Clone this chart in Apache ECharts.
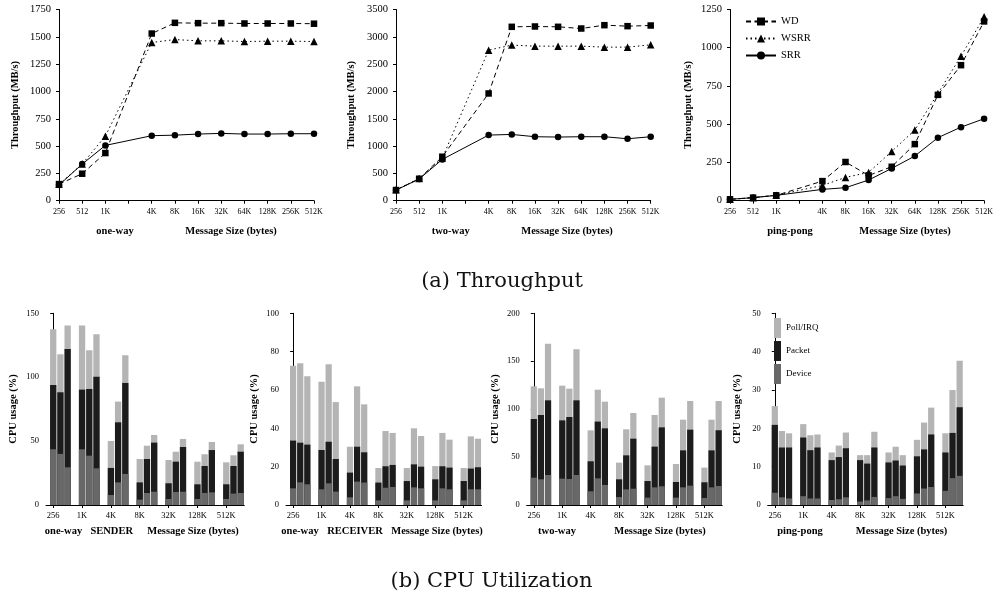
<!DOCTYPE html>
<html>
<head>
<meta charset="utf-8">
<script src="https://cdn.jsdelivr.net/npm/echarts@6/dist/echarts.min.js"></script>
<style>
html,body{margin:0;padding:0;background:#fff;}
#main{width:996px;height:601px;}
</style>
</head>
<body>
<div id="main"></div>
<script>
// ---------- Throughput data ----------
const sizes = ['256','512','1K','2K','4K','8K','16K','32K','64K','128K','256K','512K'];
const sizeTickLabels = ['256','512','1K','','4K','8K','16K','32K','64K','128K','256K','512K'];

const oneWayWD   = [152,247,436,null,1530,1628,1625,1625,1622,1622,1622,1620];
const oneWayWSRR = [150,335,591,null,1448,1475,1463,1463,1457,1460,1460,1457];
const oneWaySRR  = [143,335,506,null,595,600,610,616,610,610,613,613];

const twoWayWD   = [195,402,805,null,1963,3183,3189,3183,3152,3213,3195,3207];
const twoWayWSRR = [200,405,780,null,2756,2848,2829,2829,2829,2811,2811,2854];
const twoWaySRR  = [195,396,756,null,1201,1213,1171,1165,1171,1171,1134,1171];

const pingWD   = [9,20,35,null,128,253,165,222,370,692,886,1172];
const pingWSRR = [9,20,35,null,100,152,185,322,462,701,945,1202];
const pingSRR  = [9,20,35,null,74,85,135,211,292,412,481,536];

// ---------- CPU data (3 bars per group: WD, WSRR, SRR) ----------
const cpuGroups = ['256','1K','4K','8K','32K','128K','512K'];
// cumulative tops of each layer
const senderDevice = [43.6,40,29.5, 43.6,38.6,28.7, 7.8,17.7,24.3, 4.2,9.4,10.4, 4.7,10.2,10.4, 4.7,9.4,9.9, 4.7,8.9,9.4];
const senderPacket = [93.9,88.2,122, 90.3,90.8,100.4, 29,64.7,95.5, 17.7,36,48.8, 17,33.9,45.4, 16.2,30.5,43, 16.2,30.5,41.7];
const senderTotal  = [137.5,117.9,140.4, 140.4,121,133.6, 50.1,80.9,117.1, 36,46.4,54.8, 35.2,41.7,51.7, 33.9,39.7,49.3, 33.4,38.9,47.5];

const recvDevice = [8.7,11.8,10.8, 8.2,11.3,7, 4,12.2,11.7, 2.4,9,9.4, 2.4,9.2,8.7, 2.4,8.7,8.2, 2.4,8.2,8.2];
const recvPacket = [33.6,32.5,31.5, 28.7,33,24, 16.9,30.4,27.5, 11.7,20.2,20.9, 12.5,21.2,20, 13.4,20.2,19.5, 12.5,19,19.7];
const recvTotal  = [72.7,73.9,67.1, 64.3,73.4,53.7, 30.4,61.9,52.5, 19.3,38.6,37.6, 19.3,40,36, 20.3,37.6,34.1, 19.3,35.8,34.6];

const twoDevice = [28.5,26.8,31.3, 27.5,27.1,31.3, 14.3,27.8,20.9, 8.3,16.3,17, 7.7,18.4,19.5, 7.7,18.4,20.2, 7.3,18.4,19.8];
const twoPacket = [89.7,93.9,109.2, 88.3,91.8,109.2, 45.6,87,80, 26.8,51.8,69.2, 25,60.9,81, 24,57,78.6, 23.7,57,78];
const twoTotal  = [123.8,121.7,168.3, 124.5,121.4,162.4, 77.9,120.3,107.8, 44.2,79,96, 41.4,93.9,112, 42.8,89,108.5, 39,89,108.5];

const ppDevice = [3.2,2,1.7, 2.3,1.7,1.7, 1.3,1.5,2, 0.9,1.2,2.1, 1.8,2.3,1.6, 3,4.3,4.7, 3.7,7,7.6];
const ppPacket = [20.9,15,15, 17.6,14.3,15, 11.7,12.5,14.8, 11.7,10.8,15, 11.1,11.6,10.3, 12.7,14.5,18.4, 13.7,18.8,25.5];
const ppTotal  = [25.8,19.3,18.7, 21.1,18.2,18.4, 13.7,15.5,18.9, 13,13,19.1, 13.7,15.2,13, 17,21.5,25.4, 18.7,30,37.6];

// ---------- styling ----------
const FONT = 'Liberation Serif';
const C_POLL = '#b4b4b4', C_PACKET = '#1c1c1c', C_DEVICE = '#686868';

const chart = echarts.init(document.getElementById('main'), null, {renderer:'canvas'});

const topGrids = [
  {left:59, top:9.5, width:255, height:191.2},
  {left:396, top:9.5, width:254.7, height:191.2},
  {left:730, top:9.5, width:256, height:191.2}
];
const botGrids = [
  {left:46, top:313.3, width:198.3, height:191.7},
  {left:286, top:313.3, width:195.5, height:191.7},
  {left:526.7, top:313.3, width:195.5, height:191.7},
  {left:767.7, top:313.3, width:195.5, height:191.7}
];
const XMIN = -1, XMAX = 26.5;

const axisLineStyle = {lineStyle:{color:'#000', width:1}};
const plainNum = v => String(v);

const xAxes = [], yAxes = [], series = [];

const topDefs = [
  {max:1750, interval:250, data:[oneWayWD, oneWayWSRR, oneWaySRR]},
  {max:3500, interval:500, data:[twoWayWD, twoWayWSRR, twoWaySRR]},
  {max:1250, interval:250, data:[pingWD, pingWSRR, pingSRR]}
];
const lineDefs = [
  {name:'WD', symbol:'rect', symbolSize:6.5, type:[5,3.5]},
  {name:'WSRR', symbol:'triangle', symbolSize:7.5, type:[1.5,3]},
  {name:'SRR', symbol:'circle', symbolSize:6.5, type:'solid'}
];

topDefs.forEach((d, gi) => {
  xAxes.push({
    type:'category', gridIndex:gi, data:sizes, boundaryGap:false,
    axisLine:axisLineStyle,
    axisTick:{show:true, interval:0, length:3, lineStyle:{color:'#000'}},
    axisLabel:{interval:0, fontSize:8, fontFamily:FONT, color:'#000', margin:7,
      formatter:(v, i) => sizeTickLabels[i]},
    splitLine:{show:false}
  });
  yAxes.push({
    type:'value', gridIndex:gi, min:0, max:d.max, interval:d.interval,
    axisLine:{show:true, lineStyle:{color:'#000', width:1}},
    axisTick:{show:true, length:3, lineStyle:{color:'#000'}},
    axisLabel:{fontSize:10.5, fontFamily:FONT, color:'#000', margin:8, formatter:plainNum},
    splitLine:{show:false}
  });
  lineDefs.forEach((ld, si) => {
    series.push({
      type:'line', name:ld.name, xAxisIndex:gi, yAxisIndex:gi,
      data:d.data[si], connectNulls:true,
      symbol:ld.symbol, symbolSize:ld.symbolSize, showAllSymbol:true,
      itemStyle:{color:'#000'},
      lineStyle:{color:'#000', width:1, type:ld.type},
      z: 3 - si
    });
  });
});

const botDefs = [
  {max:150, interval:50, dev:senderDevice, pkt:senderPacket, tot:senderTotal},
  {max:100, interval:20, dev:recvDevice, pkt:recvPacket, tot:recvTotal},
  {max:200, interval:50, dev:twoDevice, pkt:twoPacket, tot:twoTotal},
  {max:50, interval:10, dev:ppDevice, pkt:ppPacket, tot:ppTotal}
];
const groupTicks = cpuGroups.map((_, g) => g * 4);
const toXY = arr => arr.map((v, k) => [Math.floor(k / 3) * 4 + (k % 3), v]);

botDefs.forEach((d, bi) => {
  const gi = 3 + bi;
  const slot = botGrids[bi].width / (XMAX - XMIN);
  const bw = slot - 0.9;
  xAxes.push({
    type:'value', gridIndex:gi, min:XMIN, max:XMAX,
    axisLine:{show:true, onZero:false, lineStyle:{color:'#000', width:1}},
    axisTick:{show:true, customValues:groupTicks, length:3, lineStyle:{color:'#000'}},
    axisLabel:{customValues:groupTicks, fontSize:8.5, fontFamily:FONT, color:'#000', margin:6,
      formatter:v => cpuGroups[Math.round(v / 4)] || ''},
    splitLine:{show:false}
  });
  yAxes.push({
    type:'value', gridIndex:gi, min:0, max:d.max, interval:d.interval,
    axisLine:{show:true, lineStyle:{color:'#000', width:1}},
    axisTick:{show:true, length:3, lineStyle:{color:'#000'}},
    axisLabel:{fontSize:8.5, fontFamily:FONT, color:'#000', margin:7, formatter:plainNum},
    splitLine:{show:false}
  });
  [['Poll/IRQ', d.tot, C_POLL], ['Packet', d.pkt, C_PACKET], ['Device', d.dev, C_DEVICE]].forEach((s, k) => {
    series.push({
      type:'bar', name:s[0], xAxisIndex:gi, yAxisIndex:gi,
      data:toXY(s[1]), barWidth:bw, barGap:'-100%',
      itemStyle:{color:s[2]}, z:2 + k
    });
  });
});

const boldText = (x, y, text, rot) => ({
  type:'text', x:x, y:y, rotation: rot ? Math.PI/2 : 0,
  style:{text:text, fontFamily:FONT, fontWeight:'bold', fontSize:10.5, fill:'#000',
    align:'center', verticalAlign:'middle'}
});

const graphics = [
  boldText(15, 105, 'Throughput (MB/s)', true),
  boldText(351.7, 105, 'Throughput (MB/s)', true),
  boldText(688, 105, 'Throughput (MB/s)', true),
  boldText(115, 231, 'one-way'),
  boldText(231, 231, 'Message Size (bytes)'),
  boldText(450.7, 231, 'two-way'),
  boldText(567, 231, 'Message Size (bytes)'),
  boldText(790, 231, 'ping-pong'),
  boldText(905, 231, 'Message Size (bytes)'),
  boldText(13, 409, 'CPU usage (%)', true),
  boldText(254, 409, 'CPU usage (%)', true),
  boldText(495, 409, 'CPU usage (%)', true),
  boldText(737, 409, 'CPU usage (%)', true),
  boldText(63.5, 531.7, 'one-way'),
  boldText(111.7, 531.7, 'SENDER'),
  boldText(193, 531.7, 'Message Size (bytes)'),
  boldText(300, 531.7, 'one-way'),
  boldText(355, 531.7, 'RECEIVER'),
  boldText(437, 531.7, 'Message Size (bytes)'),
  boldText(557, 531.7, 'two-way'),
  boldText(660, 531.7, 'Message Size (bytes)'),
  boldText(800, 531.7, 'ping-pong'),
  boldText(901.5, 531.7, 'Message Size (bytes)'),
  {type:'text', x:502, y:282, style:{text:'(a) Throughput', fontFamily:'DejaVu Serif', fontSize:21, fill:'#111', align:'center', verticalAlign:'middle'}},
  {type:'text', x:491.5, y:582, style:{text:'(b) CPU Utilization', fontFamily:'DejaVu Serif', fontSize:21, fill:'#111', align:'center', verticalAlign:'middle'}}
];

chart.setOption({
  animation:false,
  backgroundColor:'#fff',
  grid: topGrids.concat(botGrids).map(g => Object.assign({containLabel:false}, g)),
  xAxis: xAxes,
  yAxis: yAxes,
  legend: [
    {data:['WD','WSRR','SRR'], orient:'vertical', left:740, top:11, itemWidth:30, itemHeight:10, itemGap:6,
     selectedMode:false, textStyle:{fontFamily:FONT, fontSize:10.5, color:'#000'}},
    {data:['Poll/IRQ','Packet','Device'], orient:'vertical', left:769, top:313, itemWidth:7, itemHeight:20, itemGap:3,
     icon:'rect', selectedMode:false, textStyle:{fontFamily:FONT, fontSize:9, color:'#000'}}
  ],
  series: series,
  graphic: graphics
});
</script>
</body>
</html>
